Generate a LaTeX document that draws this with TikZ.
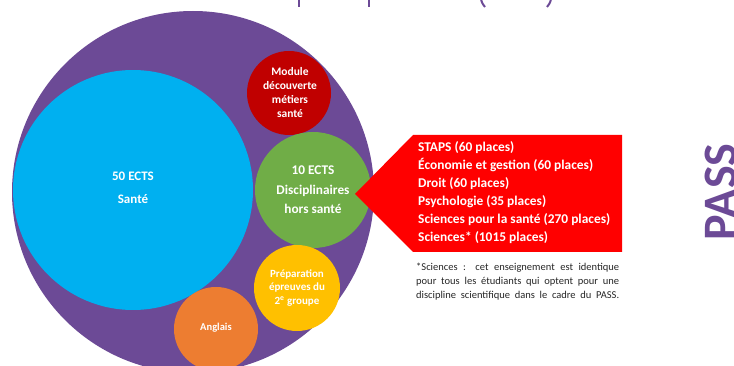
\documentclass[tikz,border=0pt]{standalone}
\usepackage{fontspec}
\setmainfont{Carlito}
\definecolor{ppurple}{RGB}{108,74,150}
\definecolor{pblue}{RGB}{0,176,240}
\definecolor{pdarkred}{RGB}{192,0,0}
\definecolor{pgreen}{RGB}{112,173,71}
\definecolor{pyellow}{RGB}{255,192,0}
\definecolor{porange}{RGB}{237,125,49}
\definecolor{pred}{RGB}{255,0,0}
\definecolor{ptext}{RGB}{38,38,38}
\tikzset{
  bubble/.style={circle, inner sep=0pt, text=white, align=center, font=\bfseries},
  ctext/.style={text=white, align=center, inner sep=0pt}
}
\begin{document}
\begin{tikzpicture}[x=1pt,y=-1pt]
\useasboundingbox (0,0) rectangle (734,366);
\clip (0,0) rectangle (734,366);
% title fragments (cropped)
\draw[ppurple, line width=2.4pt] (299,-1) -- (299,7);
\draw[ppurple, line width=2.4pt] (369,-1) -- (369,7);
\draw[ppurple, line width=2pt] (481,-1) .. controls (482,3) .. (485,7);
\draw[ppurple, line width=2pt] (551,-1) .. controls (550,3) .. (547,7);
% big circle
\fill[ppurple] (193,192) circle[radius=181];
% circles
\node[bubble, fill=pblue, minimum size=240pt] (sante) at (133,190) {};
\node[bubble, fill=pdarkred, minimum size=84pt] (module) at (289,93) {};
\node[bubble, fill=pgreen, minimum size=116pt] (disc) at (313,190) {};
\node[bubble, fill=pyellow, minimum size=86pt] (prep) at (297,288) {};
\node[bubble, fill=porange, minimum size=84pt] (angl) at (216,329) {};
% circle texts
\node[ctext, font=\bfseries\fontsize{13}{23}\selectfont] (santeT) at (133,188) {50 ECTS\\Santé};
\node[ctext, font=\bfseries\fontsize{11.5}{14}\selectfont] (moduleT) at (290,93) {Module\\découverte\\métiers\\santé};
\node[ctext, font=\bfseries\fontsize{13.3}{19.5}\selectfont] (discT) at (313,190) {10 ECTS\\Disciplinaires\\hors santé};
\node[ctext, font=\bfseries\fontsize{11}{13.5}\selectfont] (prepT) at (297,288) {Préparation\\épreuves du\\2\textsuperscript{e} groupe};
\node[ctext, font=\bfseries\fontsize{10.5}{11}\selectfont] (anglT) at (216,328) {Anglais};
% red callout
\fill[pred] (355,194) -- (413,135) -- (622,135) -- (622,252) -- (413,252) -- cycle;
\node[text=white, align=left, anchor=north west, inner sep=0pt, font=\bfseries\fontsize{13.4}{18}\selectfont] (list) at (418,141)
 {STAPS (60 places)\\Économie et gestion (60 places)\\Droit (60 places)\\Psychologie (35 places)\\Sciences pour la santé (270 places)\\Sciences* (1015 places)};
% footnote
\node[text=ptext, align=left, anchor=north west, inner sep=0pt, font=\fontsize{10.5}{14}\selectfont] (note) at (416,263)
 {\makebox[203pt][s]{*Sciences : cet enseignement est identique}\\
  \makebox[203pt][s]{pour tous les étudiants qui optent pour une}\\
  \makebox[203pt][s]{discipline scientifique dans le cadre du PASS.}};
% PASS
\node[text=ppurple, rotate=90, anchor=base, inner sep=0pt, font=\bfseries\fontsize{48}{48}\selectfont] (pass) at (736,192) {PASS};
\end{tikzpicture}
\end{document}
